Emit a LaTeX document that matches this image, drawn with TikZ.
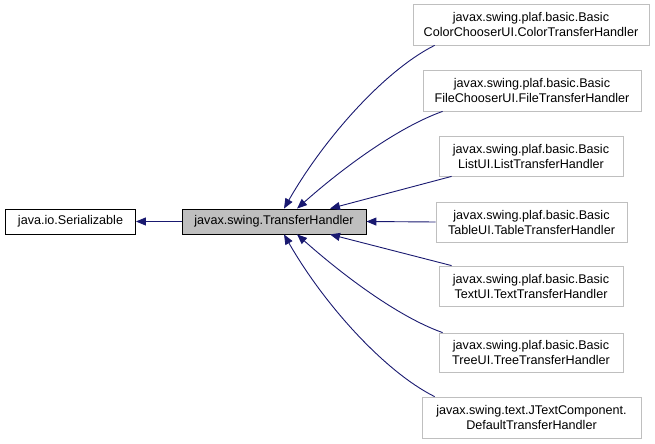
\documentclass[tikz,border=0pt]{standalone}
\usepackage{fontspec}
\setmainfont{Liberation Sans}
\usetikzlibrary{arrows.meta}
\definecolor{edgeblue}{HTML}{191970}
\definecolor{boxgray}{HTML}{BFBFBF}

\begin{document}
\begin{tikzpicture}[x=1bp,y=-1bp,>={Triangle[length=10bp,width=8bp]},
  cls/.style={draw,align=center,inner sep=0pt,line width=0.8bp,
    font=\fontsize{12.6bp}{15bp}\selectfont},
  sub/.style={cls,draw=boxgray},
  size/.style 2 args={minimum width=#1bp,minimum height=#2bp},
  inh/.style={->,draw=edgeblue,line width=0.9bp}]
\useasboundingbox (0,0) rectangle (655,444);
\node[cls,size={130}{25}] (ser) at (70.5,221.5) {java.io.Serializable};
\node[cls,fill=boxgray,size={184}{25}] (th) at (274,221.5) {javax.swing.TransferHandler};
\node[sub,size={236}{41}] (color) at (531,24.5) {javax.swing.plaf.basic.Basic\\ColorChooserUI.ColorTransferHandler};
\node[sub,size={218}{41}] (file) at (532,90.5) {javax.swing.plaf.basic.Basic\\FileChooserUI.FileTransferHandler};
\node[sub,size={184}{40}] (list) at (531,156) {javax.swing.plaf.basic.Basic\\ListUI.ListTransferHandler};
\node[sub,size={191}{40}] (table) at (531.5,222) {javax.swing.plaf.basic.Basic\\TableUI.TableTransferHandler};
\node[sub,size={184}{40}] (text) at (531,286) {javax.swing.plaf.basic.Basic\\TextUI.TextTransferHandler};
\node[sub,size={184}{39}] (tree) at (531,352.5) {javax.swing.plaf.basic.Basic\\TreeUI.TreeTransferHandler};
\node[sub,size={219}{41}] (jtc) at (531.5,417.5) {javax.swing.text.JTextComponent.\\DefaultTransferHandler};
% inheritance
\draw[inh] (th.west) -- (ser.east);
\draw[inh] ([xshift=22bp]color.south west) .. controls +(-50,25) and +(40,-70) .. ([xshift=10bp]th.north);
\draw[inh] ([xshift=20bp]file.south west) .. controls +(-45,16) and +(45,-40) .. ([xshift=23bp]th.north);
\draw[inh] ([xshift=13bp]list.south west) -- ([xshift=56bp]th.north);
\draw[inh] (table.west) -- (th.east);
\draw[inh] ([xshift=13bp]text.north west) -- ([xshift=56bp]th.south);
\draw[inh] ([xshift=4bp]tree.north west) .. controls +(-45,-16) and +(45,40) .. ([xshift=23bp]th.south);
\draw[inh] ([xshift=13bp]jtc.north west) .. controls +(-50,-25) and +(40,70) .. ([xshift=10bp]th.south);
\end{tikzpicture}
\end{document}
